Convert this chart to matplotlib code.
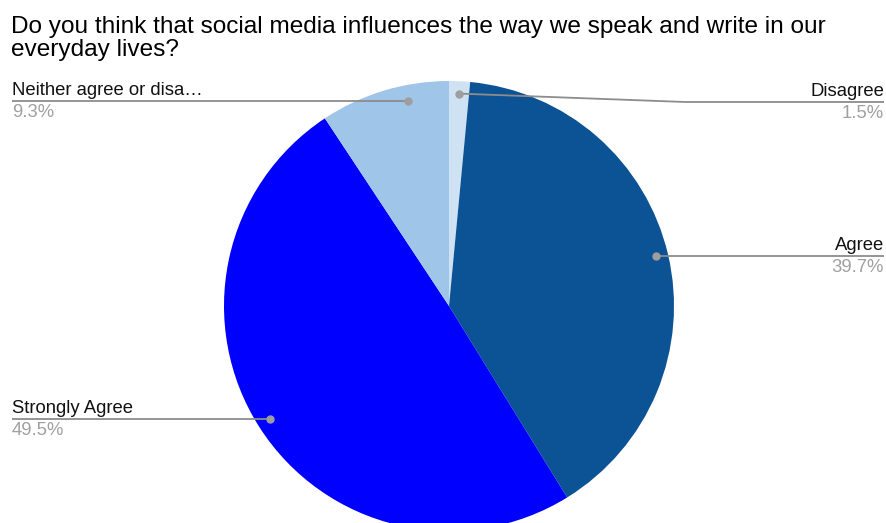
import numpy as np
import matplotlib
matplotlib.use("Agg")
import matplotlib.pyplot as plt

plt.rcParams['font.family'] = ['Liberation Sans', 'DejaVu Sans']

title_lines = ["Do you think that social media influences the way we speak and write in our",
               "everyday lives?"]
categories = ["Disagree", "Agree", "Strongly Agree", "Neither agree or disa\u2026"]
values = [1.5, 39.7, 49.5, 9.3]
pct_labels = ["1.5%", "39.7%", "49.5%", "9.3%"]
colors = ["#cfe2f3", "#0b5394", "#0000ff", "#9fc5e8"]

W, H = 887, 523
fig = plt.figure(figsize=(W / 100, H / 100), dpi=100)
ax = fig.add_axes([0, 0, 1, 1])

cx, cy, R = 449, H - 306, 225
ax.pie(values, colors=colors, startangle=90, counterclock=False,
       center=(cx, cy), radius=R, frame=True,
       wedgeprops=dict(linewidth=0))
ax.set_xlim(0, W)
ax.set_ylim(0, H)
ax.set_aspect('equal')
ax.axis('off')

for k, (line, base) in enumerate(zip(title_lines, [33, 56])):
    ax.text(11, H - base, line, fontsize=17.6, va='baseline', ha='left', color='#000000')

# label layout: (side, line y in px from top, angle override in deg clockwise from top or None)
layout = [
    ("right", 102, None),
    ("right", 256, None),
    ("left", 419, None),
    ("left", 101, -11.0),
]
cum = np.cumsum([0] + values[:-1])
total = sum(values)
line_col = '#8c8c8c'
for i, (side, ly, ang_over) in enumerate(layout):
    mid = (cum[i] + values[i] / 2) / total * 360
    if ang_over is not None:
        mid = ang_over
    th = np.deg2rad(mid)
    r = 0.945 * R
    dx, dy = cx + r * np.sin(th), cy + r * np.cos(th)
    yline = H - ly
    if side == "right":
        if abs(dy - yline) > 2:
            xs = [dx, 685, W - 3]
            ys = [dy, yline, yline]
        else:
            xs = [dx, W - 3]
            ys = [yline, yline]
            dy = yline
        tx, ha = W - 3, 'right'
    else:
        xs = [12, dx]
        ys = [yline, yline]
        dy = yline
        tx, ha = 12, 'left'
    ax.plot(xs, ys, color=line_col, lw=1.3, solid_capstyle='butt', zorder=5)
    ax.plot([dx], [dy], 'o', color='#9e9e9e', ms=5, zorder=6)
    ax.text(tx, yline + 6, categories[i], ha=ha, va='baseline', fontsize=13.3, color='#111111')
    ax.text(tx, yline - 3, pct_labels[i], ha=ha, va='top', fontsize=13.3, color='#a0a0a0')

fig.savefig("out.png", dpi=100, facecolor='white')
